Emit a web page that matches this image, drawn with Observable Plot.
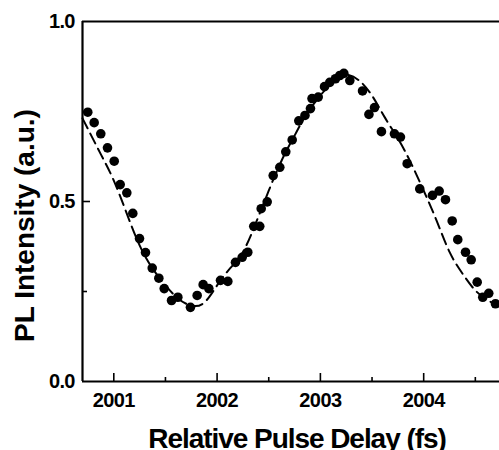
<!DOCTYPE html>
<html><head><meta charset="utf-8">
<script src="https://cdn.jsdelivr.net/npm/d3@7"></script>
<script src="https://cdn.jsdelivr.net/npm/@observablehq/plot@0.6"></script>
<style>
body{margin:0;background:#fff}
svg{display:block}
</style>
</head><body><div id="chart"></div>
<script>
const delayObs = [2000.748,2000.810,2000.874,2000.939,2001.004,2001.062,2001.126,2001.184,2001.249,2001.307,2001.372,2001.436,2001.488,2001.559,2001.620,2001.742,2001.807,2001.865,2001.920,2002.033,2002.104,2002.178,2002.243,2002.297,2002.355,2002.413,2002.427,2002.485,2002.543,2002.607,2002.665,2002.727,2002.791,2002.851,2002.904,2002.919,2002.979,2003.040,2003.091,2003.146,2003.188,2003.227,2003.285,2003.408,2003.470,2003.524,2003.591,2003.717,2003.775,2003.840,2003.962,2004.085,2004.150,2004.211,2004.276,2004.330,2004.405,2004.460,2004.518,2004.572,2004.630,2004.695];
const intensityObs = [0.748,0.719,0.688,0.649,0.612,0.547,0.524,0.467,0.397,0.358,0.315,0.287,0.258,0.225,0.234,0.206,0.239,0.269,0.258,0.281,0.278,0.331,0.345,0.359,0.431,0.431,0.480,0.499,0.572,0.595,0.638,0.671,0.724,0.739,0.758,0.786,0.790,0.819,0.831,0.841,0.850,0.856,0.836,0.807,0.742,0.761,0.694,0.688,0.679,0.605,0.535,0.517,0.529,0.505,0.446,0.394,0.359,0.338,0.276,0.234,0.245,0.216];
const delayFit = [2000.697,2000.875,2001.0,2001.125,2001.25,2001.375,2001.5,2001.625,2001.75,2001.875,2002.0,2002.125,2002.25,2002.375,2002.5,2002.625,2002.75,2002.875,2003.0,2003.125,2003.25,2003.375,2003.5,2003.625,2003.75,2003.875,2004.0,2004.125,2004.25,2004.375,2004.5,2004.625,2004.734];
const intensityFit = [0.731,0.631,0.558,0.467,0.378,0.314,0.267,0.230,0.211,0.219,0.267,0.314,0.360,0.440,0.530,0.614,0.683,0.747,0.794,0.836,0.852,0.836,0.794,0.733,0.675,0.608,0.530,0.447,0.360,0.300,0.253,0.225,0.210];
const xTicksMajor = [2001, 2002, 2003, 2004];
const xTicksMinor = [2001.5, 2002.5, 2003.5, 2004.5];
const yTicksMajor = [0, 0.5, 1.0];
const yTicksMinor = [0.25, 0.75];
const xDomain = [2000.697, 2004.734];
const yDomain = [0, 1];
const xLabel = "Relative Pulse Delay (fs)";
const yLabel = "PL Intensity (a.u.)";

const obs = delayObs.map((t, i) => ({t, v: intensityObs[i]}));
const fit = delayFit.map((t, i) => ({t, v: intensityFit[i]}));

const font = "'Liberation Sans', Arial, sans-serif";
const chart = Plot.plot({
  width: 499,
  height: 450,
  marginLeft: 82,
  marginRight: 0,
  marginTop: 21,
  marginBottom: 69,
  style: {fontFamily: font, color: "#000", background: "#fff", overflow: "visible"},
  x: {domain: xDomain},
  y: {domain: yDomain},
  marks: [
    Plot.axisX({ticks: xTicksMajor, tickSize: 0, tickPadding: 11, tickFormat: d => String(d), fontSize: 20, fontWeight: "bold", label: null}),
    Plot.axisY({ticks: yTicksMajor, tickSize: 0, tickPadding: 8, tickFormat: d3.format(".1f"), fontSize: 20, fontWeight: "bold", label: null}),
    Plot.ruleX(xTicksMajor, {x: d => d, insetTop: 352, strokeWidth: 1.6}),
    Plot.ruleX(xTicksMinor, {x: d => d, insetTop: 356, strokeWidth: 1.6}),
    Plot.ruleY([0.5], {y: d => d, insetRight: 409, strokeWidth: 1.6}),
    Plot.ruleY(yTicksMinor, {y: d => d, insetRight: 412, strokeWidth: 1.6}),
    Plot.line(fit, {x: "t", y: "v", curve: "natural", stroke: "#000", strokeWidth: 2, strokeDasharray: "11,6"}),
    Plot.dot(obs, {x: "t", y: "v", r: 4.8, fill: "#000", stroke: null}),
    Plot.ruleX([xDomain[0]], {x: d => d, strokeWidth: 2.2}),
    Plot.ruleY([yDomain[0]], {y: d => d, strokeWidth: 2.2}),
    Plot.ruleY([yDomain[1]], {y: d => d, strokeWidth: 2.2}),
    Plot.text([xLabel], {text: d => d, frameAnchor: "bottom", textAnchor: "middle", dx: 6, dy: 58, fontSize: 28, fontWeight: "bold", lineAnchor: "middle"}),
    Plot.text([yLabel], {text: d => d, frameAnchor: "left", textAnchor: "middle", rotate: -90, dx: -57, dy: 24, fontSize: 28, fontWeight: "bold", lineAnchor: "middle"})
  ]
});
const spacing = {[xLabel]: "-1.05px", [yLabel]: "0px"};
d3.select(chart).selectAll("text").each(function() {
  const s = this.textContent;
  if (s in spacing) this.setAttribute("letter-spacing", spacing[s]);
  else if (/^\d{4}$/.test(s)) this.setAttribute("letter-spacing", "-0.6px");
  else if (/^\d\.\d$/.test(s)) this.setAttribute("letter-spacing", "-0.8px");
});
document.getElementById("chart").append(chart);
</script>
</body></html>
